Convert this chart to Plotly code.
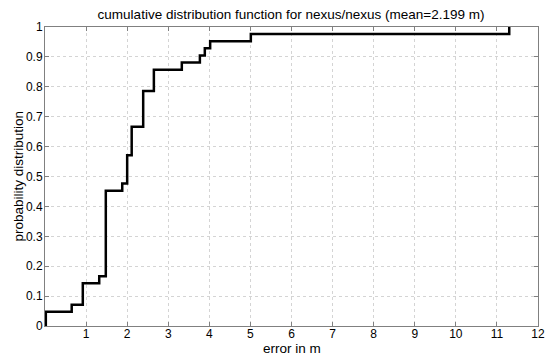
import plotly.graph_objects as go

# step positions (error in m) and CDF levels (n = 42 samples)
step_x = [0.02, 0.02, 0.65, 0.92, 1.32, 1.48, 1.88, 2.00, 2.11, 2.39, 2.65,
          3.33, 3.77, 3.89, 4.02, 5.01, 11.30]
cdf_y = [0, 2/42, 3/42, 6/42, 7/42, 19/42, 20/42, 24/42, 28/42, 33/42, 36/42,
         37/42, 38/42, 39/42, 40/42, 41/42, 1.0]

x_ticks = list(range(1, 13))
x_labels = [str(v) for v in x_ticks]
y_ticks = [i / 10 for i in range(11)]
y_labels = ["0", "0.1", "0.2", "0.3", "0.4", "0.5", "0.6", "0.7", "0.8", "0.9", "1"]

title_text = "cumulative distribution function for nexus/nexus (mean=2.199 m)"

fig = go.Figure()
fig.add_trace(go.Scatter(x=step_x, y=cdf_y, mode="lines", line_shape="hv",
                         line=dict(color="black", width=2.5), showlegend=False,
                         hoverinfo="skip"))

font = "Liberation Sans, Arial, sans-serif"
axis_common = dict(
    showline=True, linecolor="#808080", linewidth=1, mirror="ticks",
    ticks="inside", ticklen=4, tickcolor="#808080", automargin=False,
    showgrid=True, gridcolor="#d4d4d4", griddash="dot", gridwidth=1,
    zeroline=False, tickfont=dict(family=font, size=12, color="black"),
)

fig.update_layout(
    width=545, height=356,
    margin=dict(l=45, r=7, t=27, b=30, autoexpand=False),
    paper_bgcolor="white", plot_bgcolor="white",
    title=dict(text=title_text, x=0.534, xanchor="center", y=0.959, yref="container",
               yanchor="middle", font=dict(family=font, size=13.5, color="black"),
               automargin=False),
    xaxis=dict(range=[0, 12], tickvals=x_ticks, ticktext=x_labels,
               ticklabelstandoff=-3, **axis_common),
    yaxis=dict(range=[0, 1], tickvals=y_ticks, ticktext=y_labels,
               ticklabelstandoff=-1, **axis_common),
)
fig.add_annotation(text="error in m", xref="paper", yref="paper", x=0.5, y=0,
                   yshift=-22, yanchor="middle", showarrow=False,
                   font=dict(family=font, size=13.5, color="black"))
fig.add_annotation(text="probability distribution", xref="paper", yref="paper",
                   x=0, y=0.5, xshift=-27, xanchor="center", yanchor="middle",
                   textangle=-90, showarrow=False,
                   font=dict(family=font, size=13.5, color="black"))

fig.write_html("out.html", post_script="document.body.style.margin='0';",
               config={"displayModeBar": False})
